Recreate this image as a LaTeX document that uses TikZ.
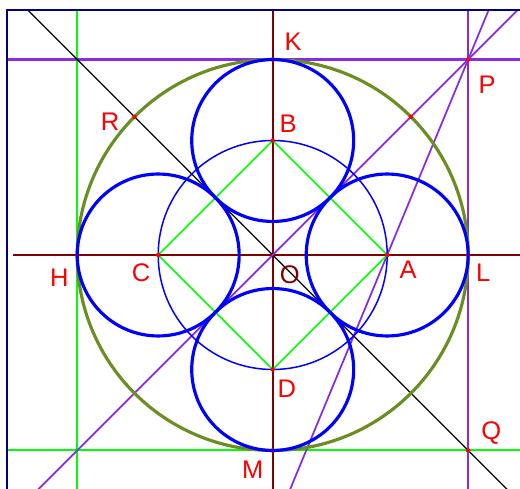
\documentclass[tikz,border=0pt]{standalone}
\usepackage{fontspec}
\setmainfont{Liberation Sans}
\usetikzlibrary{calc}
\definecolor{framenavy}{RGB}{0,0,128}
\definecolor{axisred}{RGB}{128,0,0}
\definecolor{violetline}{RGB}{138,43,226}
\definecolor{olivering}{RGB}{107,142,35}
\definecolor{ptred}{RGB}{255,0,0}
\definecolor{sqgreen}{RGB}{0,255,0}

\begin{document}
\begin{tikzpicture}[
        x=0.02cm, y=0.02cm,
        font=\fontsize{14.5}{17}\selectfont,
        frameline/.style={
            draw=framenavy,
            line width=1.2pt
        },
        axis/.style={
            draw=axisred,
            line width=1.1pt
        },
        vline/.style={
            draw=violetline,
            line width=1pt
        },
        gline/.style={
            draw=sqgreen,
            line width=1.1pt
        },
        diag/.style={
            draw=black,
            line width=0.75pt
        },
        bigring/.style={
            draw=olivering,
            line width=1.8pt
        },
        thinring/.style={
            draw=blue,
            line width=0.85pt
        },
        thickring/.style={
            draw=blue,
            line width=1.8pt
        },
        pt/.style={
            circle,
            fill=ptred,
            inner sep=0pt,
            minimum size=0.09cm
        },
        lbl/.style={
            text=ptred
        }
    ]
    
    \pgfmathsetmacro{\dd}{114.5}
    \pgfmathsetmacro{\rr}{\dd/sqrt(2)}
    \pgfmathsetmacro{\RR}{\dd+\rr}
    
    \useasboundingbox (-272.7,-234) rectangle (247.3,255);
    
    % =========================
    % Points
    % =========================
    \coordinate (O) at (0,0);
    \coordinate (A) at (\dd,0);
    \coordinate (B) at (0,\dd);
    \coordinate (C) at (-\dd,0);
    \coordinate (D) at (0,-\dd);
    \coordinate (K) at (0,\RR);
    \coordinate (L) at (\RR,0);
    \coordinate (H) at (-\RR,0);
    \coordinate (M) at (0,-\RR);
    \coordinate (P) at (\RR,\RR);
    \coordinate (Q) at (\RR,-\RR);
    \coordinate (R) at (135:\RR);
    \coordinate (T) at (45:\RR);
    
    \coordinate (fTL) at (-265.7,245);
    \coordinate (iBR) at (247.3,-234);
    \coordinate (axW) at (-259.7,0);
    
    % =========================
    % Lines
    % =========================
    \begin{scope}
    \clip (fTL) rectangle (iBR);
    
    \draw[gline] (H |- fTL) -- (H |- iBR);
    \draw[gline] (M -| fTL) -- (M -| iBR);
    \draw[vline, line width=1.3pt] (K -| fTL) -- (K -| iBR);
    \draw[vline] (L |- fTL) -- (L |- iBR);
    
    \draw[axis] (axW) -- (L -| iBR);
    \draw[axis] (O |- fTL) -- (O |- iBR);
    
    \draw[diag] ($(O)!-2!(Q)$) -- ($(O)!2!(Q)$);
    \draw[vline] ($(O)!-2!(P)$) -- ($(O)!2!(P)$);
    \draw[vline] ($(A)!-3!(P)$) -- ($(A)!2!(P)$);
    \end{scope}
    
    \draw[frameline] (fTL |- iBR) -- (fTL) -- (fTL -| iBR);
    
    % =========================
    % Circles
    % =========================
    \draw[bigring] (O) circle[radius=\RR];
    \draw[thinring] (O) circle[radius=\dd];
    \draw[gline, line width=0.9pt] (A) -- (B) -- (C) -- (D) -- cycle;
    
    \foreach \p in {A,B,C,D,K,L,H,M,P,Q,R,T}
        \node[pt] (dot\p) at (\p) {};
    
    \foreach \c in {A,B,C,D}
        \draw[thickring] (\c) circle[radius=\rr];
    
    % =========================
    % Labels
    % =========================
    \node[lbl] (labK) at ($(K)+(20.3,17.5)$) {K};
    \node[lbl] (labB) at ($(B)+(15.3,16.5)$) {B};
    \node[lbl] (labP) at ($(P)+(19,-25.5)$) {P};
    \node[lbl] (labR) at ($(R)+(-24.5,-5)$) {R};
    \node[lbl] (labH) at ($(H)+(-18,-23)$) {H};
    \node[lbl] (labC) at ($(C)+(-17,-18)$) {C};
    \node[text=axisred] (labO) at ($(O)+(17,-20)$) {O};
    \node[lbl] (labA) at ($(A)+(21,-15)$) {A};
    \node[lbl] (labL) at ($(L)+(15,-18)$) {L};
    \node[lbl] (labD) at ($(D)+(14,-19.5)$) {D};
    \node[lbl] (labQ) at ($(Q)+(23,17.5)$) {Q};
    \node[lbl] (labM) at ($(M)+(-20,-19.5)$) {M};
    
\end{tikzpicture}
\end{document}
